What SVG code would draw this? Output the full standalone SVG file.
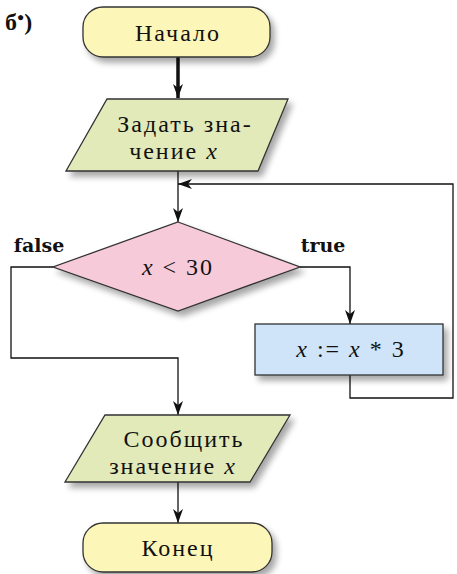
<svg xmlns="http://www.w3.org/2000/svg" width="457" height="574" viewBox="0 0 457 574">
<style>
.t{font-size:24px;letter-spacing:2px;fill:#111;text-anchor:middle}
.b{font-weight:bold;font-size:19px;fill:#111;text-anchor:middle}
.shape{stroke:#333;stroke-width:1.3}
.ln{fill:none;stroke:#111;stroke-width:1.3}
</style>
<defs>
<filter id="sh" x="-10%" y="-10%" width="130%" height="140%">
<feGaussianBlur in="SourceAlpha" stdDeviation="3"/>
<feOffset dx="4" dy="5" result="o"/>
<feComponentTransfer><feFuncA type="linear" slope="0.35"/></feComponentTransfer>
<feMerge><feMergeNode/><feMergeNode in="SourceGraphic"/></feMerge>
</filter>
<marker id="ar" viewBox="0 0 14 10" refX="14" refY="5" markerWidth="14" markerHeight="10" markerUnits="userSpaceOnUse" orient="auto">
<path d="M0,0 L14,5 L0,10 L4,5 Z" fill="#111"/>
</marker>
</defs>
<rect width="457" height="574" fill="#fff"/>
<text x="5" y="30" font-family="Liberation Serif" font-weight="bold" font-size="24" fill="#111">б<tspan dy="-9" font-size="12">●</tspan><tspan dy="9">)</tspan></text>

<g id="connectors">
<line x1="178" y1="57" x2="178" y2="98" stroke="#111" stroke-width="3.5" marker-end="url(#ar)"/>
<line class="ln" x1="178" y1="171" x2="178" y2="222" marker-end="url(#ar)"/>
<polyline class="ln" points="350,375 350,398 453,398 453,184 178,184" marker-end="url(#ar)"/>
<polyline class="ln" points="300,267 350,267 350,324" marker-end="url(#ar)"/>
<polyline class="ln" points="53,267 11,267 11,358 178,358 178,415" marker-end="url(#ar)"/>
<line class="ln" x1="178" y1="482" x2="178" y2="523" marker-end="url(#ar)"/>
<text x="39" y="252" class="b" font-family="DejaVu Serif">false</text>
<text x="323" y="252" class="b" font-family="DejaVu Serif">true</text>
</g>

<g id="start">
<rect x="83" y="7" width="187" height="50" rx="20" fill="#fdf6b9" class="shape" filter="url(#sh)"/>
<text x="178" y="41" class="t" font-family="Liberation Serif">Начало</text>
</g>

<g id="input">
<polygon points="107,99 288,99 258,171 66,171" fill="#e2eab9" class="shape" filter="url(#sh)"/>
<text x="185" y="132" class="t" font-family="Liberation Serif">Задать зна-</text>
<text x="174" y="159" class="t" font-family="Liberation Serif">чение <tspan font-style="italic">x</tspan></text>
</g>

<g id="cond">
<polygon points="178,222 300,267 178,311 53,267" fill="#f7cada" class="shape" filter="url(#sh)"/>
<text x="178" y="275" class="t" font-family="Liberation Serif"><tspan font-style="italic">x</tspan> &lt; 30</text>
</g>

<g id="proc">
<rect x="255" y="324" width="188" height="51" fill="#cfe4f8" class="shape" filter="url(#sh)"/>
<text x="351" y="357" class="t" font-family="Liberation Serif"><tspan font-style="italic">x</tspan> := <tspan font-style="italic">x</tspan> * 3</text>
</g>

<g id="output">
<polygon points="105,415 290,415 250,482 65,482" fill="#e2eab9" class="shape" filter="url(#sh)"/>
<text x="184" y="447" class="t" font-family="Liberation Serif">Сообщить</text>
<text x="173" y="474" class="t" font-family="Liberation Serif">значение <tspan font-style="italic">x</tspan></text>
</g>

<g id="end">
<rect x="83" y="523" width="189" height="49" rx="20" fill="#fdf6b9" class="shape" filter="url(#sh)"/>
<text x="178" y="556" class="t" font-family="Liberation Serif">Конец</text>
</g>
</svg>
